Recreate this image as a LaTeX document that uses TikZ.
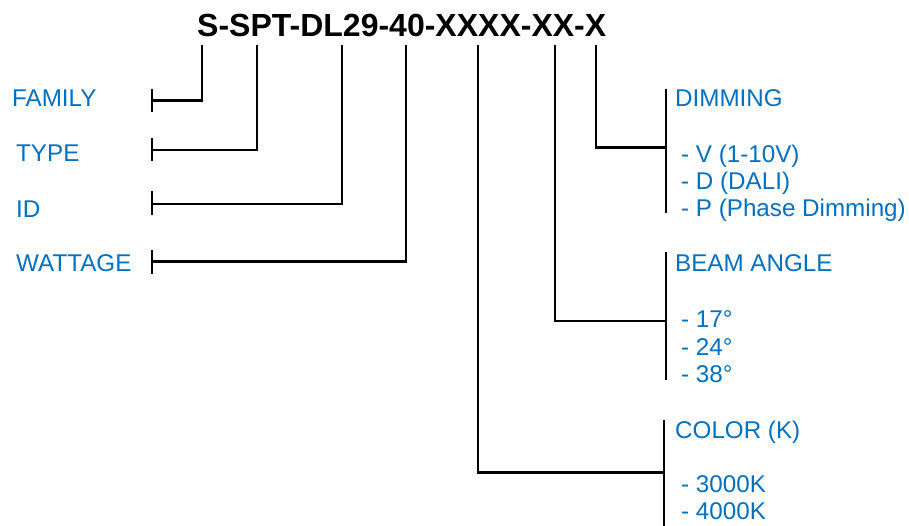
\documentclass[tikz,border=0pt]{standalone}
\usepackage{fontspec}
\setmainfont{Liberation Sans}
\definecolor{lblblue}{HTML}{0070C0}
\begin{document}
\begin{tikzpicture}[x=1pt,y=-1pt,
  conn/.style={draw=black,line width=2.6pt},
  lbl/.style={anchor=base west,inner sep=0pt,text=lblblue,font=\fontsize{24.2}{27}\selectfont},
  ttl/.style={anchor=base west,inner sep=0pt,font=\fontsize{32}{36}\selectfont\bfseries}]
\useasboundingbox (0,0) rectangle (909,525);
% title
\node[ttl] (title) at (197,36) {S-SPT-DL29-40-XXXX-XX-X};
% left labels
\node[lbl] (family) at (12,106.7) {FAMILY};
\node[lbl] (type) at (16,161) {TYPE};
\node[lbl] (id) at (16,217.3) {ID};
\node[lbl] (watt) at (16,271.7) {WATTAGE};
% right labels
\node[lbl] (dim) at (675,106) {DIMMING};
\node[lbl] (dimv) at (681,162.7) {- V (1-10V)};
\node[lbl] (dimd) at (681,189.3) {- D (DALI)};
\node[lbl] (dimp) at (681,216) {- P (Phase Dimming)};
\node[lbl] (beam) at (675,271.7) {BEAM ANGLE};
\node[lbl] (b17) at (681,327.3) {- 17°};
\node[lbl] (b24) at (681,355) {- 24°};
\node[lbl] (b38) at (681,382.3) {- 38°};
\node[lbl] (col) at (675,438.3) {COLOR (K)};
\node[lbl] (c30) at (681,492.3) {- 3000K};
\node[lbl] (c40) at (681,519.3) {- 4000K};
% drop points under title
\coordinate (t1) at (202,45);
\coordinate (t2) at (257,45);
\coordinate (t3) at (342,45);
\coordinate (t4) at (406,45);
\coordinate (t5) at (478,45);
\coordinate (t6) at (555,45);
\coordinate (t7) at (596,45);
% left bracket points
\coordinate (hf) at (152,100.7);
\coordinate (ht) at (152,150);
\coordinate (hi) at (152,204);
\coordinate (hw) at (152,261.7);
% right bracket points
\coordinate (hd) at (666,147.3);
\coordinate (hb) at (666,321);
\coordinate (hc) at (664,472.3);
% connectors
\draw[conn] (t1) |- (hf);
\draw[conn] (t2) |- (ht);
\draw[conn] (t3) |- (hi);
\draw[conn] (t4) |- (hw);
\draw[conn] (t7) |- (hd);
\draw[conn] (t6) |- (hb);
\draw[conn] (t5) |- (hc);
% bars
\draw[conn] ([yshift=-11.7pt]hf) -- ([yshift=12pt]hf);
\draw[conn] ([yshift=-11pt]ht) -- ([yshift=11.7pt]ht);
\draw[conn] ([yshift=-11pt]hi) -- ([yshift=12.7pt]hi);
\draw[conn] ([yshift=-12.7pt]hw) -- ([yshift=11.3pt]hw);
\draw[conn] (666,89) -- (666,212.7);
\draw[conn] (666,251.7) -- (666,380);
\draw[conn] (664,420) -- (664,530);
\end{tikzpicture}
\end{document}
